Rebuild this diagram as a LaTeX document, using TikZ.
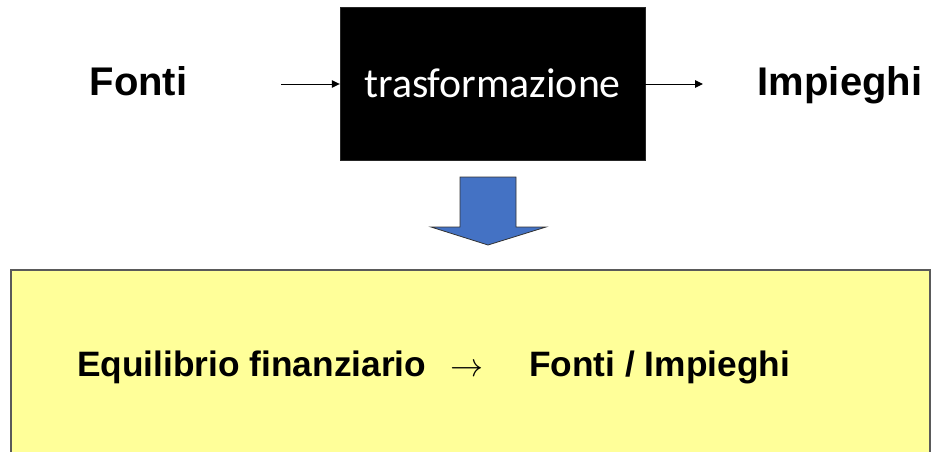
\documentclass[tikz,border=0pt]{standalone}
\usepackage{fontspec}
\setmainfont{Liberation Sans}
\newfontfamily\calib{Carlito}
\usetikzlibrary{arrows.meta}
\definecolor{boxyellow}{HTML}{FFFF99}
\definecolor{arrowblue}{HTML}{4472C4}
\definecolor{edgegray}{HTML}{5A5A5A}
\tikzset{
  bigtxt/.style={font=\fontsize{40}{46}\selectfont\bfseries, anchor=base, inner sep=0pt},
  eqtxt/.style={font=\fontsize{35.3}{40}\selectfont\bfseries, anchor=base, inner sep=0pt},
  flow/.style={line width=1pt, -{Triangle[length=8pt,width=7.5pt]}},
}
\begin{document}
\begin{tikzpicture}[x=1pt,y=-1pt]
\useasboundingbox (0,0) rectangle (931,452);
\clip (0,0) rectangle (931,452);
% yellow box
\draw[edgegray, line width=1.2pt, fill=boxyellow] (11,270) rectangle (930,470);
% black transformation box
\node[fill=black, draw=black!85, minimum width=305pt, minimum height=153pt, inner sep=0pt,
      text=white, font=\calib\fontsize{41.8}{48}\selectfont] (tr) at (492.5,83.5) {trasformazione};
% side labels
\node[bigtxt] (fonti) at (138.5,95) {Fonti};
\node[bigtxt] (imp) at (840,95) {Impieghi};
\coordinate (lstart) at (281,84);
\coordinate (rend) at (703,84);
\draw[flow] (lstart) -- (tr.west |- lstart);
\draw[flow] (tr.east |- rend) -- (rend);
% blue down arrow
\draw[fill=arrowblue, draw=black!80, line width=0.8pt]
  (460,177) -- (516,177) -- (516,227) -- (546,227) -- (488,245) -- (431,227) -- (460,227) -- cycle;
% bottom text
\node[eqtxt, anchor=base west] (eq) at (77,376) {Equilibrio finanziario};
\node[anchor=base, inner sep=0pt] (arr) at (466.5,376) {\resizebox{33pt}{!}{$\rightarrow$}};
\node[eqtxt, anchor=base west] (fi) at (529,376) {Fonti / Impieghi};
\end{tikzpicture}
\end{document}
